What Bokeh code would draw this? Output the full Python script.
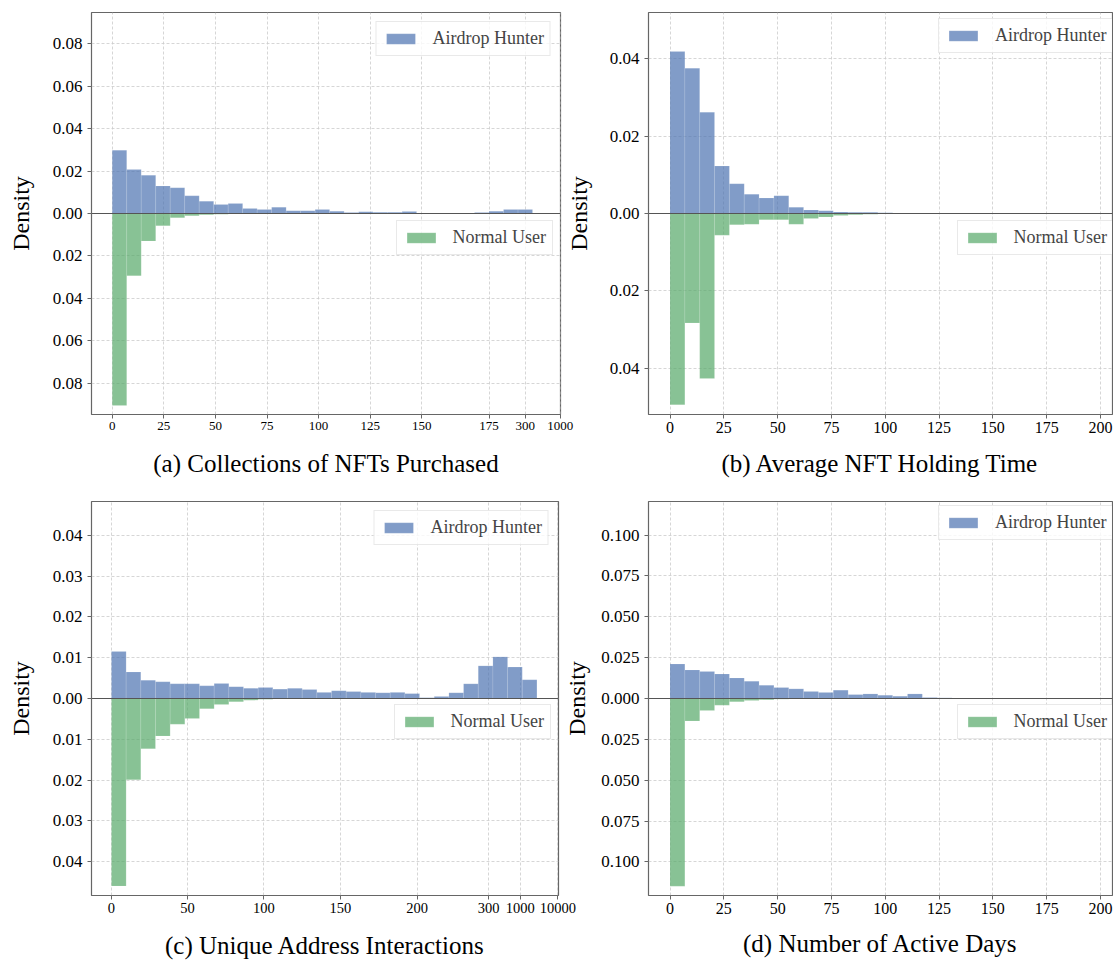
from bokeh.plotting import figure
from bokeh.models import (Range1d, FixedTicker, CustomJSTickFormatter, Span,
                          Legend, LegendItem)
from bokeh.layouts import column, row
from bokeh.embed import file_html
from bokeh.resources import INLINE

FONT = "Liberation Serif"
BLUE = "#4C72B0"
GREEN = "#55A868"
SPINE = "#666666"

# ---------------- data (densities) ----------------
# (a) Collections of NFTs Purchased — 29 bins on a stretched axis
a_hunter = [0.0298, 0.0207, 0.0180, 0.0130, 0.0121, 0.0083, 0.0058, 0.0042, 0.0047, 0.0024,
            0.0019, 0.0030, 0.0013, 0.0013, 0.0019, 0.0011, 0.0005, 0.0008, 0.0006, 0.0006,
            0.0009, 0.0000, 0.0000, 0.0002, 0.0002, 0.0005, 0.0011, 0.0019, 0.0019]
a_normal = [0.0904, 0.0293, 0.0130, 0.0058, 0.0020, 0.0011, 0.0006, 0.0003, 0.0002, 0.0001,
            0.0, 0.0, 0.0, 0.0, 0.0, 0.0, 0.0, 0.0, 0.0, 0.0,
            0.0, 0.0, 0.0, 0.0, 0.0, 0.0, 0.0, 0.0, 0.0]
a_tick_labels = ["0", "25", "50", "75", "100", "125", "150", "175", "300", "1000"]
a_tick_bins = [0, 3.56, 7.12, 10.68, 14.24, 17.8, 21.36, 26.0, 28.5, 30.92]

# (b) Average NFT Holding Time — 29 bins over 0..200
b_hunter = [0.0419, 0.0376, 0.0262, 0.0123, 0.0077, 0.0050, 0.0040, 0.0046, 0.0016, 0.0009,
            0.0007, 0.0004, 0.0003, 0.0003, 0.0002, 0.0001, 0.0001, 0.0001, 0.0001, 0.0,
            0.0, 0.0, 0.0, 0.0, 0.0, 0.0, 0.0, 0.0, 0.0]
b_normal = [0.0495, 0.0283, 0.0427, 0.0056, 0.0029, 0.0028, 0.0016, 0.0016, 0.0028, 0.0013,
            0.0009, 0.0005, 0.0003, 0.0002, 0.0001, 0.0001, 0.0001, 0.0001, 0.0, 0.0,
            0.0, 0.0, 0.0, 0.0, 0.0, 0.0, 0.0, 0.0, 0.0]

# (c) Unique Address Interactions — 29 bins on a stretched axis
c_hunter = [0.0115, 0.0065, 0.0045, 0.0041, 0.0036, 0.0036, 0.0031, 0.0037, 0.0029, 0.0025,
            0.0027, 0.0023, 0.0025, 0.0022, 0.0015, 0.0019, 0.0017, 0.0015, 0.0014, 0.0015,
            0.0012, 0.0002, 0.0005, 0.0014, 0.0036, 0.0080, 0.0102, 0.0077, 0.0046]
c_normal = [0.0460, 0.0199, 0.0123, 0.0092, 0.0063, 0.0049, 0.0025, 0.0015, 0.0008, 0.0004,
            0.0002, 0.0001, 0.0, 0.0, 0.0, 0.0, 0.0, 0.0, 0.0, 0.0,
            0.0, 0.0, 0.0, 0.0, 0.0, 0.0, 0.0, 0.0, 0.0]
c_tick_labels = ["0", "50", "100", "150", "200", "300", "1000", "10000"]
c_tick_bins = [0, 5.18, 10.39, 15.61, 20.84, 25.7, 27.86, 30.43]

# (d) Number of Active Days — 29 bins over 0..200
d_hunter = [0.0211, 0.0175, 0.0165, 0.0150, 0.0126, 0.0106, 0.0081, 0.0067, 0.0059, 0.0043,
            0.0037, 0.0051, 0.0024, 0.0028, 0.0020, 0.0014, 0.0028, 0.0006, 0.0004, 0.0,
            0.0, 0.0, 0.0, 0.0, 0.0, 0.0, 0.0, 0.0, 0.0]
d_normal = [0.1148, 0.0138, 0.0073, 0.0041, 0.0020, 0.0012, 0.0008, 0.0004, 0.0002, 0.0,
            0.0, 0.0, 0.0, 0.0, 0.0, 0.0, 0.0, 0.0, 0.0, 0.0,
            0.0, 0.0, 0.0, 0.0, 0.0, 0.0, 0.0, 0.0, 0.0]

linear_ticks = [0, 25, 50, 75, 100, 125, 150, 175, 200]

captions = ["(a) Collections of NFTs Purchased", "(b) Average NFT Holding Time",
            "(c) Unique Address Interactions", "(d) Number of Active Days"]
series_names = ["Airdrop Hunter", "Normal User"]


def style_legend(lg):
    lg.label_text_font = FONT
    lg.label_text_font_size = "18px"
    lg.glyph_width = 36
    lg.glyph_height = 13
    lg.padding = 6
    lg.label_standoff = 14
    lg.margin = 9
    lg.spacing = 0
    lg.border_line_color = "#d4d4d4"
    lg.border_line_width = 1
    lg.background_fill_color = "white"
    lg.background_fill_alpha = 0.8


def panel(hunter, normal, edges, xr, ylim, yticks, ydigits, caption,
          width, height, bl, br, bt, bb, xtick_font, ylab_standoff, xlab_standoff,
          xticks=None, xlabels=None, extra_right=0):
    p = figure(width=width, height=height, output_backend="svg", toolbar_location=None,
               x_range=Range1d(*xr), y_range=Range1d(-ylim, ylim),
               min_border_left=bl, min_border_right=br, min_border_top=bt, min_border_bottom=bb)
    p.background_fill_color = "white"
    p.border_fill_alpha = 0
    p.outline_line_color = SPINE
    p.outline_line_width = 1.2

    left = edges[:-1]
    right = edges[1:]
    rh = p.quad(left=left, right=right, bottom=0, top=hunter,
                fill_color=BLUE, fill_alpha=0.7, line_color="white", line_alpha=0.2, line_width=0.6)
    rn = p.quad(left=left, right=right, top=0, bottom=[-v for v in normal],
                fill_color=GREEN, fill_alpha=0.7, line_color="white", line_alpha=0.2, line_width=0.6)

    p.add_layout(Span(location=0, dimension="width", line_color="#555555", line_width=1.2))

    for ax in (p.xaxis[0], p.yaxis[0]):
        ax.axis_line_color = None
        ax.major_tick_line_color = SPINE
        ax.major_tick_line_width = 1
        ax.major_tick_out = 4
        ax.major_tick_in = 0
        ax.minor_tick_line_color = None
        ax.major_label_text_font = FONT
        ax.major_label_text_color = "black"
        ax.axis_label_text_font = FONT
        ax.axis_label_text_font_style = "normal"
        ax.axis_label_text_color = "black"

    ya = p.yaxis[0]
    ya.ticker = FixedTicker(ticks=yticks)
    ya.formatter = CustomJSTickFormatter(args=dict(d=ydigits),
                                         code="return Math.abs(tick).toFixed(d);")
    ya.major_label_text_font_size = "17px"
    ya.major_label_standoff = 5
    ya.axis_label = "Density"
    ya.axis_label_text_font_size = "24px"
    ya.axis_label_standoff = ylab_standoff

    xa = p.xaxis[0]
    if xlabels is None:
        xa.ticker = FixedTicker(ticks=linear_ticks)
    else:
        xa.ticker = FixedTicker(ticks=xticks)
        xa.formatter = CustomJSTickFormatter(
            args=dict(pos=xticks, lab=xlabels),
            code="""let b = 0, bd = 1e9;
                    for (let i = 0; i < pos.length; i++) {
                      const dd = Math.abs(pos[i] - tick);
                      if (dd < bd) { bd = dd; b = i; }
                    }
                    return lab[b];""")
    xa.major_label_text_font_size = xtick_font
    xa.major_label_standoff = 3
    xa.axis_label = caption
    xa.axis_label_text_font_size = "25px"
    xa.axis_label_standoff = xlab_standoff

    for g in (p.xgrid[0], p.ygrid[0]):
        g.grid_line_color = "#cccccc"
        g.grid_line_dash = "3 2"
        g.grid_line_width = 0.8

    frame_w = width - bl - br
    frame_h = height - bt - bb

    if extra_right:
        lg1 = Legend(items=[LegendItem(label=series_names[0], renderers=[rh])],
                     location=(frame_w + extra_right - 9 - 174, frame_h - 9 - 32))
    else:
        lg1 = Legend(items=[LegendItem(label=series_names[0], renderers=[rh])],
                     location="top_right")
    lg2 = Legend(items=[LegendItem(label=series_names[1], renderers=[rn])],
                 location=(frame_w + extra_right - 8.5 - 156, frame_h / 2 - 9.5 - 32))
    style_legend(lg1)
    style_legend(lg2)
    p.add_layout(lg1)
    p.add_layout(lg2)
    return p


bins_idx = list(range(len(a_hunter) + 1))
bins_lin = [i * 200 / 29 for i in range(len(b_hunter) + 1)]

# row 1: frames y 12..414 ; row 2: frames y 501..897
pa = panel(a_hunter, a_normal, bins_idx, (-1.43, 30.93), 0.0946,
           [-0.08, -0.06, -0.04, -0.02, 0, 0.02, 0.04, 0.06, 0.08], 2, captions[0],
           580, 488, 91, 20, 12, 74, "13px", 16, 17,
           xticks=a_tick_bins, xlabels=a_tick_labels)
pb = panel(b_hunter, b_normal, bins_lin, (-10.0, 205.6), 0.052,
           [-0.04, -0.02, 0, 0.02, 0.04], 2, captions[1],
           555, 488, 90, 1, 12, 74, "16px", 15, 14, extra_right=9)
pc = panel(c_hunter, c_normal, bins_idx, (-1.36, 30.47), 0.0483,
           [-0.04, -0.03, -0.02, -0.01, 0, 0.01, 0.02, 0.03, 0.04], 2, captions[2],
           580, 473, 91, 22, 13, 64, "14.5px", 16, 16,
           xticks=c_tick_bins, xlabels=c_tick_labels)
pd_ = panel(d_hunter, d_normal, bins_lin, (-10.0, 205.6), 0.1205,
            [-0.1, -0.075, -0.05, -0.025, 0, 0.025, 0.05, 0.075, 0.1], 3, captions[3],
            555, 473, 90, 1, 13, 64, "16px", 8, 13, extra_right=9)

pb.margin = (0, 0, 0, -22)
pd_.margin = (0, 0, 0, -22)

layout = column(row(pa, pb), row(pc, pd_))
open("out.html", "w").write(file_html(layout, INLINE))
